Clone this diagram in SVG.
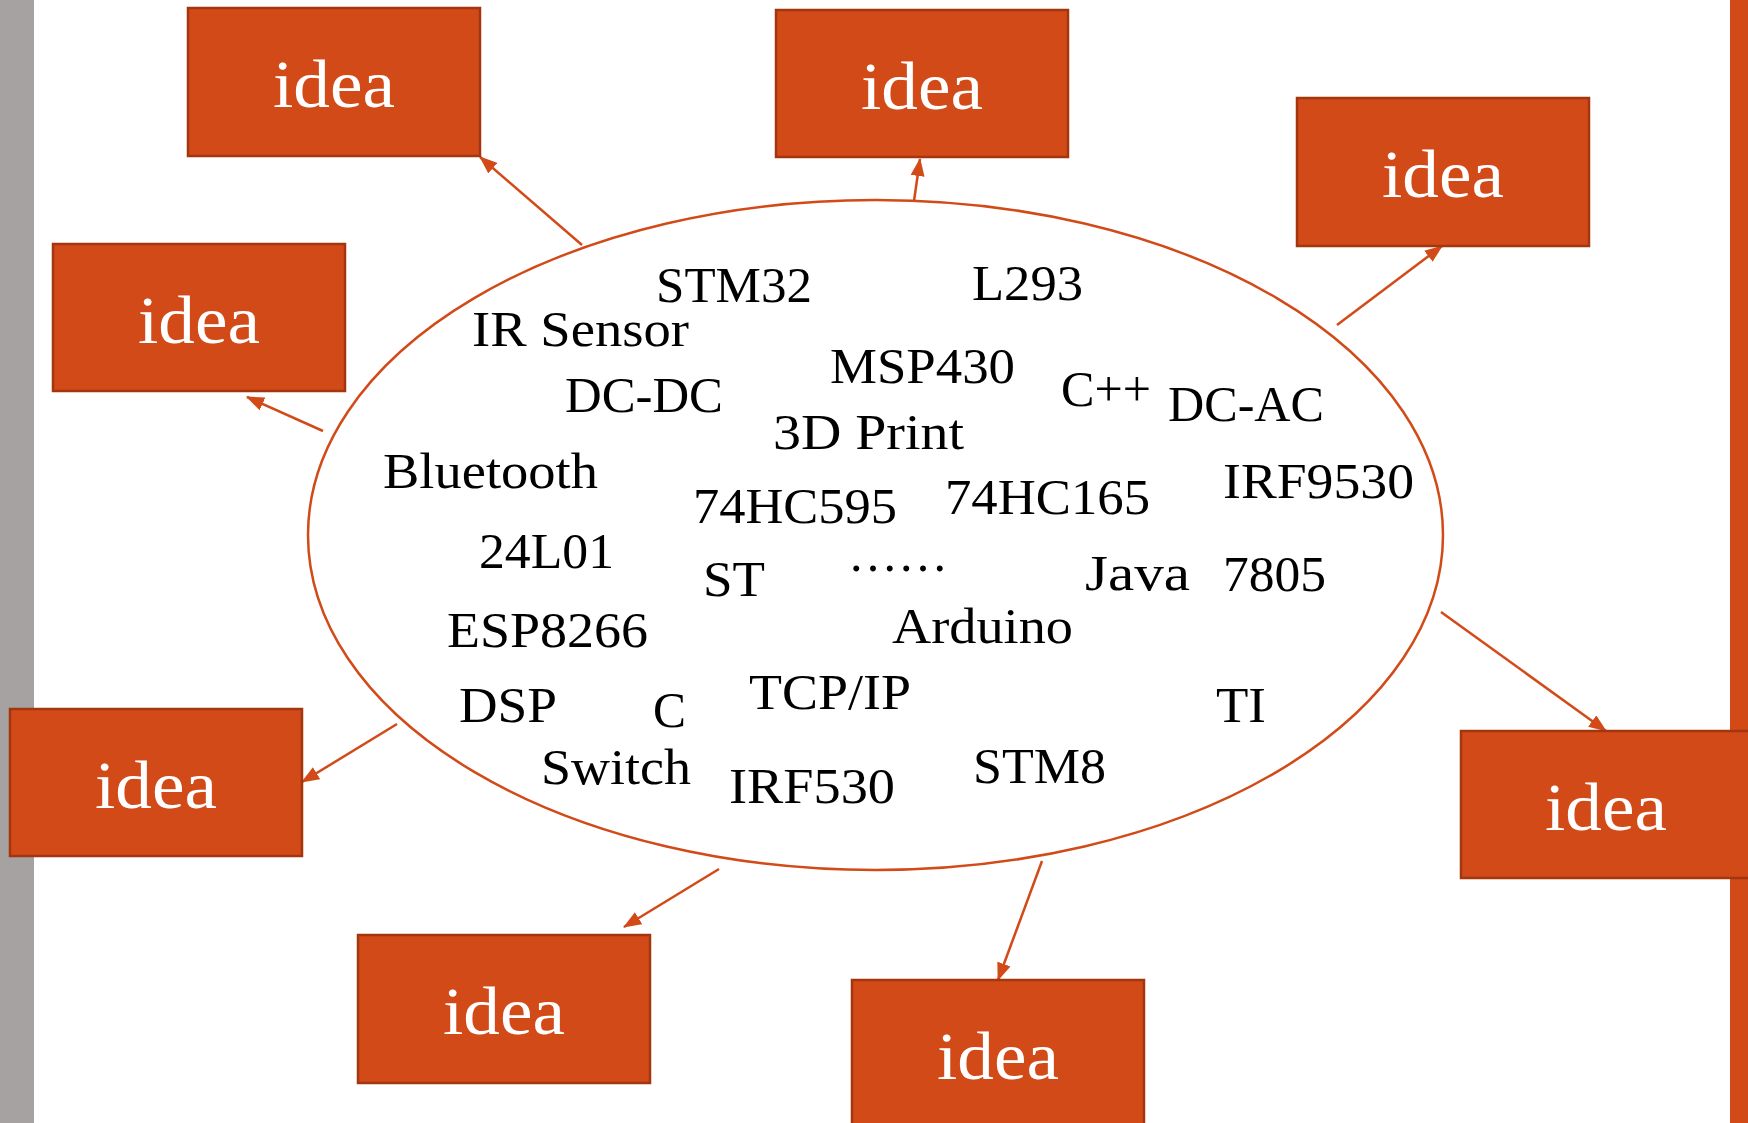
<svg xmlns="http://www.w3.org/2000/svg" width="1748" height="1123" viewBox="0 0 1748 1123">
<defs>
<style>
.box{fill:#D24A18;stroke:#A3360F;stroke-width:2.5}
.idea{font-family:"Liberation Serif",serif;font-size:68px;fill:#fff;text-anchor:middle}
.lbl{font-family:"Liberation Serif",serif;font-size:50px;fill:#000}
.con{stroke:#D24A18;stroke-width:2.5;fill:none}
</style>
<marker id="ah" viewBox="0 0 18 14" markerWidth="18" markerHeight="14" markerUnits="userSpaceOnUse" refX="17" refY="7" orient="auto">
<path d="M0,0 L18,7 L0,14 z" fill="#D24A18"/>
</marker>
</defs>
<rect x="0" y="0" width="1748" height="1123" fill="#fff"/>
<rect x="0" y="0" width="34" height="1123" fill="#A6A2A1"/>
<rect x="1730" y="0" width="18" height="1123" fill="#D24A18"/>

<g id="connectors">
<line class="con" x1="582" y1="245" x2="480" y2="157" marker-end="url(#ah)"/>
<line class="con" x1="323" y1="431" x2="247" y2="397" marker-end="url(#ah)"/>
<line class="con" x1="914" y1="201" x2="920" y2="159" marker-end="url(#ah)"/>
<line class="con" x1="1337" y1="325" x2="1442" y2="246" marker-end="url(#ah)"/>
<line class="con" x1="397" y1="724" x2="302" y2="782" marker-end="url(#ah)"/>
<line class="con" x1="719" y1="869" x2="624" y2="927" marker-end="url(#ah)"/>
<line class="con" x1="1042" y1="861" x2="998" y2="980" marker-end="url(#ah)"/>
<line class="con" x1="1441" y1="612" x2="1606" y2="731" marker-end="url(#ah)"/>
</g>

<g id="hub">
<ellipse cx="875.5" cy="535" rx="567.5" ry="335" fill="#fff" stroke="#D24A18" stroke-width="2.5"/>
<text class="lbl" x="656" y="302" textLength="156" lengthAdjust="spacingAndGlyphs">STM32</text>
<text class="lbl" x="972" y="300" textLength="111" lengthAdjust="spacingAndGlyphs">L293</text>
<text class="lbl" x="472" y="346" textLength="217" lengthAdjust="spacingAndGlyphs">IR Sensor</text>
<text class="lbl" x="830" y="383" textLength="185" lengthAdjust="spacingAndGlyphs">MSP430</text>
<text class="lbl" x="1061" y="406" textLength="90" lengthAdjust="spacingAndGlyphs">C++</text>
<text class="lbl" x="1168" y="421" textLength="156" lengthAdjust="spacingAndGlyphs">DC-AC</text>
<text class="lbl" x="565" y="412" textLength="158" lengthAdjust="spacingAndGlyphs">DC-DC</text>
<text class="lbl" x="773" y="449" textLength="191" lengthAdjust="spacingAndGlyphs">3D Print</text>
<text class="lbl" x="383" y="488" textLength="215" lengthAdjust="spacingAndGlyphs">Bluetooth</text>
<text class="lbl" x="693" y="523" textLength="204" lengthAdjust="spacingAndGlyphs">74HC595</text>
<text class="lbl" x="945" y="514" textLength="205" lengthAdjust="spacingAndGlyphs">74HC165</text>
<text class="lbl" x="1223" y="498" textLength="191" lengthAdjust="spacingAndGlyphs">IRF9530</text>
<text class="lbl" x="479" y="568" textLength="135" lengthAdjust="spacingAndGlyphs">24L01</text>
<text class="lbl" x="703" y="596" textLength="62" lengthAdjust="spacingAndGlyphs">ST</text>
<text class="lbl" x="848" y="571">……</text>
<text class="lbl" x="1085" y="590" textLength="105" lengthAdjust="spacingAndGlyphs">Java</text>
<text class="lbl" x="1223" y="591" textLength="103" lengthAdjust="spacingAndGlyphs">7805</text>
<text class="lbl" x="447" y="647" textLength="201" lengthAdjust="spacingAndGlyphs">ESP8266</text>
<text class="lbl" x="892" y="643" textLength="181" lengthAdjust="spacingAndGlyphs">Arduino</text>
<text class="lbl" x="459" y="722" textLength="98" lengthAdjust="spacingAndGlyphs">DSP</text>
<text class="lbl" x="653" y="727" textLength="33" lengthAdjust="spacingAndGlyphs">C</text>
<text class="lbl" x="749" y="709" textLength="162" lengthAdjust="spacingAndGlyphs">TCP/IP</text>
<text class="lbl" x="1216" y="722" textLength="50" lengthAdjust="spacingAndGlyphs">TI</text>
<text class="lbl" x="541" y="784" textLength="150" lengthAdjust="spacingAndGlyphs">Switch</text>
<text class="lbl" x="729" y="803" textLength="166" lengthAdjust="spacingAndGlyphs">IRF530</text>
<text class="lbl" x="973" y="783" textLength="133" lengthAdjust="spacingAndGlyphs">STM8</text>
</g>

<g id="idea1"><rect class="box" x="188" y="8" width="292" height="148"/><text class="idea" x="334" y="107" textLength="122" lengthAdjust="spacingAndGlyphs">idea</text></g>
<g id="idea2"><rect class="box" x="53" y="244" width="292" height="147"/><text class="idea" x="199" y="343" textLength="122" lengthAdjust="spacingAndGlyphs">idea</text></g>
<g id="idea3"><rect class="box" x="776" y="10" width="292" height="147"/><text class="idea" x="922" y="109" textLength="122" lengthAdjust="spacingAndGlyphs">idea</text></g>
<g id="idea4"><rect class="box" x="1297" y="98" width="292" height="148"/><text class="idea" x="1443" y="197" textLength="122" lengthAdjust="spacingAndGlyphs">idea</text></g>
<g id="idea5"><rect class="box" x="10" y="709" width="292" height="147"/><text class="idea" x="156" y="808" textLength="122" lengthAdjust="spacingAndGlyphs">idea</text></g>
<g id="idea6"><rect class="box" x="358" y="935" width="292" height="148"/><text class="idea" x="504" y="1034" textLength="122" lengthAdjust="spacingAndGlyphs">idea</text></g>
<g id="idea7"><rect class="box" x="852" y="980" width="292" height="148"/><text class="idea" x="998" y="1079" textLength="122" lengthAdjust="spacingAndGlyphs">idea</text></g>
<g id="idea8"><rect class="box" x="1461" y="731" width="292" height="147"/><text class="idea" x="1606" y="830" textLength="122" lengthAdjust="spacingAndGlyphs">idea</text></g>
</svg>
